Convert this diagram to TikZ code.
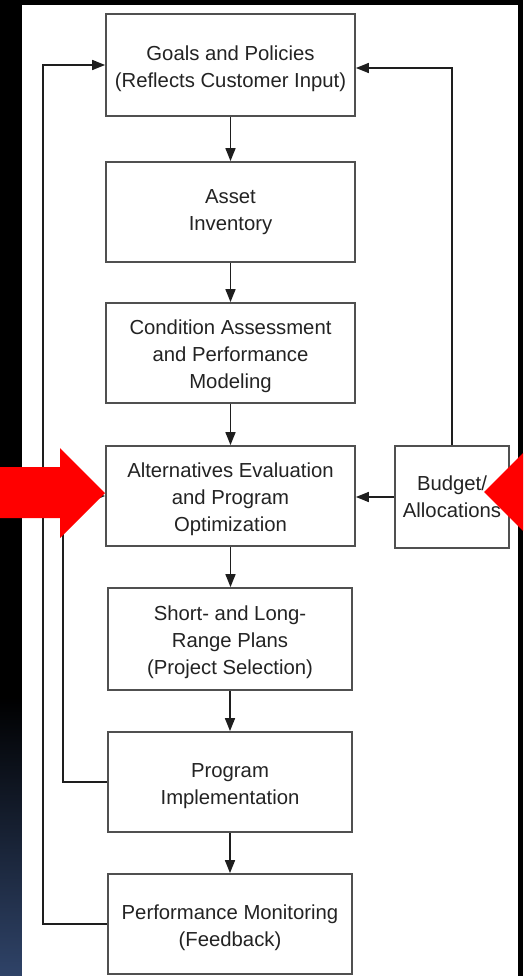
\documentclass[tikz,border=0pt]{standalone}
\usepackage{fontspec}
\setmainfont{Liberation Sans}
\usetikzlibrary{arrows.meta}
\definecolor{boxgray}{RGB}{80,80,80}
\definecolor{linkgray}{RGB}{30,30,30}
\definecolor{txtgray}{RGB}{35,35,35}
\definecolor{navyfade}{RGB}{47,67,104}
\definecolor{signalred}{RGB}{255,0,0}
% taller first line, so the text block sits a little lower in its box
\newcommand{\topgap}{\rule{0pt}{21.5pt}}
\begin{document}
\begin{tikzpicture}[x=1pt,y=-1pt,
  box/.style={draw=boxgray, line width=1.8pt, fill=white, inner sep=0pt,
    align=center, font=\fontsize{20.3}{27}\selectfont, text=txtgray},
  link/.style={draw=linkgray, line width=1.6pt},
  arr/.style={link, -{Triangle[length=13pt,width=10pt]}},
  bigarrow/.style={fill=signalred, draw=none},
]
\useasboundingbox (0,0) rectangle (523,976);
\clip (0,0) rectangle (523,976);

% backdrop: dark frame with a blue fade at the lower left, white sheet
\fill[black] (0,0) rectangle (523,976);
\shade[top color=black, bottom color=navyfade] (0,697) rectangle (22,976);
\fill[white] (22,5) rectangle (518,976);

% process boxes
\node[box, minimum width=249pt, minimum height=102pt] (goals) at (230.5,65)
  {\topgap Goals and Policies\\(Reflects Customer Input)};
\node[box, minimum width=249pt, minimum height=100pt] (asset) at (230.5,212)
  {Asset\\Inventory};
\node[box, minimum width=249pt, minimum height=100pt] (cond) at (230.5,353)
  {\topgap Condition Assessment\\and Performance\\Modeling};
\node[box, minimum width=249pt, minimum height=100pt] (alt) at (230.5,496)
  {\topgap Alternatives Evaluation\\and Program\\Optimization};
\node[box, minimum width=244pt, minimum height=102pt] (plans) at (230,639)
  {\topgap Short- and Long-\\Range Plans\\(Project Selection)};
\node[box, minimum width=244pt, minimum height=100pt] (impl) at (230,782)
  {\topgap Program\\Implementation};
\node[box, minimum width=244pt, minimum height=100pt] (monit) at (230,924)
  {\topgap Performance Monitoring\\(Feedback)};
\node[box, minimum width=114pt, minimum height=102pt] (budget) at (452,497)
  {Budget/\\Allocations};

% main chain
\draw[arr] (goals.south) -- (asset.north);
\draw[arr] (asset.south) -- (cond.north);
\draw[arr] (cond.south) -- (alt.north);
\draw[arr] (alt.south) -- (alt.south |- plans.north);
\draw[arr] (plans.south) -- (impl.north);
\draw[arr] (impl.south) -- (monit.north);

% budget links
\coordinate (btop) at (452,68);
\draw[arr] (budget.west) -- (alt.east |- budget.west);
\draw[arr] (budget.north) -- (btop) -- (goals.east |- btop);

% feedback loops
\coordinate (outer) at (43,65);
\coordinate (inner) at (63,782);
\draw[arr] (monit.west) -- (monit.west -| outer) -- (outer) -- (goals.west);
\draw[arr] (impl.west) -- (inner) -- (inner |- alt.west) -- (alt.west);

% red pointers
\fill[bigarrow] (0,467) -- (60,467) -- (60,448) -- (105,493) -- (60,538)
  -- (60,518) -- (0,518) -- cycle;
\fill[bigarrow] (484,492) -- (532,444) -- (532,540) -- cycle;
\end{tikzpicture}
\end{document}
